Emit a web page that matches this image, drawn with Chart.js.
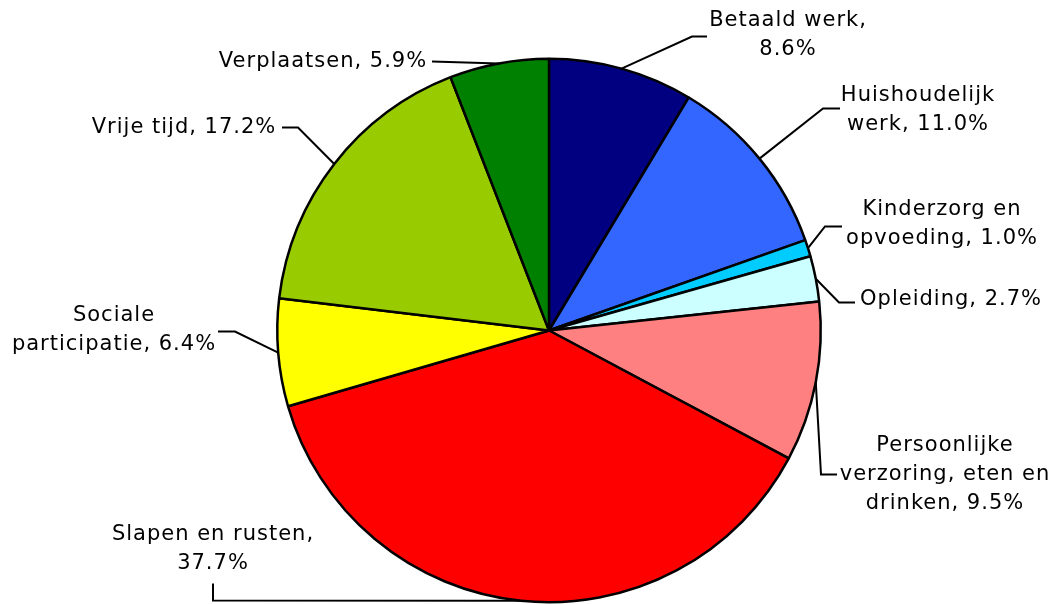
<!DOCTYPE html>
<html>
<head>
<meta charset="utf-8">
<script src="https://cdn.jsdelivr.net/npm/chart.js@4/dist/chart.umd.min.js"></script>
<style>
html,body{margin:0;padding:0;background:#fff;}
#wrap{width:1054px;height:604px;position:relative;}
</style>
</head>
<body>
<div id="wrap"><canvas id="c" width="1054" height="604"></canvas></div>
<script>
// ---- data ----
const categories = ['Betaald werk', 'Huishoudelijk\nwerk', 'Kinderzorg en\nopvoeding', 'Opleiding',
  'Persoonlijke\nverzoring, eten en\ndrinken', 'Slapen en rusten', 'Sociale\nparticipatie',
  'Vrije tijd', 'Verplaatsen'];
const shares = [8.6, 11.0, 1.0, 2.7, 9.5, 37.7, 6.4, 17.2, 5.9];
const valueOnNewLine = [true, false, false, false, false, true, false, false, false];
const colors = ['#000080', '#3366FF', '#00CCFF', '#CCFFFF', '#FF8080', '#FF0000', '#FFFF00', '#99CC00', '#008000'];

// ---- label layout (offsets from pie centre, px) ----
const labelLayout = [
  {tx: 239, ty: -295, pts: [[143, -294], [158, -294]]},
  {tx: 369, ty: -220, pts: [[274, -222], [291, -222]]},
  {tx: 393, ty: -106, pts: [[276, -104], [293, -104]]},
  {tx: 402, ty: -31,  pts: [[290, -28], [306, -28]]},
  {tx: 396, ty: 144,  pts: [[272, 144], [288, 144]]},
  {tx: -336, ty: 219, pts: [[-336, 270], [-336, 253]]},
  {tx: -435, ty: 0,   pts: [[-314, 1], [-331, 1]]},
  {tx: -365, ty: -203, pts: [[-251, -203], [-267, -203]]},
  {tx: -226, ty: -269, pts: [[-117, -269]]}
];

const labelPlugin = {
  id: 'leaderLabels',
  afterDatasetsDraw(chart) {
    const ctx = chart.ctx;
    const meta = chart.getDatasetMeta(0);
    ctx.save();
    ctx.font = '21px "DejaVu Sans"';
    try { ctx.letterSpacing = '1px'; } catch (e) {}
    ctx.fillStyle = '#000';
    ctx.strokeStyle = '#000';
    ctx.lineWidth = 2;
    ctx.textAlign = 'center';
    ctx.textBaseline = 'middle';
    meta.data.forEach((arc, i) => {
      const p = arc.getProps(['x', 'y', 'startAngle', 'endAngle', 'outerRadius'], true);
      const mid = (p.startAngle + p.endAngle) / 2;
      const sx = p.x + Math.cos(mid) * p.outerRadius;
      const sy = p.y + Math.sin(mid) * p.outerRadius;
      const L = labelLayout[i];
      ctx.beginPath();
      ctx.moveTo(sx, sy);
      L.pts.forEach(q => ctx.lineTo(p.x + q[0], p.y + q[1]));
      ctx.stroke();
      const pct = shares[i].toFixed(1) + '%';
      const text = categories[i] + ',' + (valueOnNewLine[i] ? '\n' : ' ') + pct;
      const lines = text.split('\n');
      const lh = 29;
      const y0 = p.y + L.ty - (lines.length - 1) * lh / 2;
      lines.forEach((ln, k) => ctx.fillText(ln, p.x + L.tx, y0 + k * lh));
    });
    ctx.restore();
  }
};

new Chart(document.getElementById('c'), {
  type: 'pie',
  data: {
    labels: categories,
    datasets: [{
      data: shares,
      backgroundColor: colors,
      borderColor: '#000',
      borderWidth: 2.5
    }]
  },
  options: {
    responsive: false,
    animation: false,
    layout: {padding: {top: 57, bottom: 0, left: 276, right: 232}},
    plugins: {legend: {display: false}, tooltip: {enabled: false}}
  },
  plugins: [labelPlugin]
});
</script>
</body>
</html>
